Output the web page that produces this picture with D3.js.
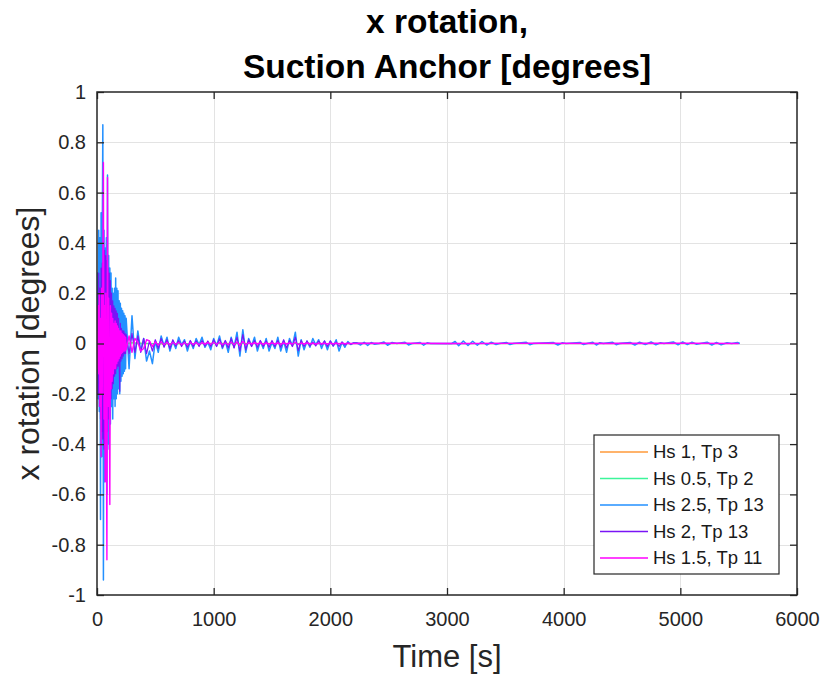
<!DOCTYPE html>
<html>
<head>
<meta charset="utf-8">
<script src="https://cdn.jsdelivr.net/npm/d3@7"></script>
<style>
  html, body { margin: 0; padding: 0; background: #ffffff; }
  svg { display: block; font-family: "Liberation Sans", Arial, Helvetica, sans-serif; }
</style>
</head>
<body>
<svg id="chart" width="827" height="677"></svg>
<script>
// Shared sample times for the first 2200 s of the three largest runs [s]
const time = [
  0, 5, 10, 15, 20, 25, 30, 35, 40, 45,
  50, 55, 60, 65, 70, 75, 80, 85, 90, 95,
  100, 105, 110, 115, 120, 125, 130, 135, 140, 145,
  150, 155, 160, 165, 170, 175, 180, 185, 190, 195,
  200, 205, 210, 215, 220, 225, 230, 235, 240, 245,
  250,
  275, 300, 325, 350, 375, 400, 425, 450, 475, 500,
  525, 550, 575, 600, 625, 650, 675, 700, 725, 750,
  775, 800, 825, 850, 875, 900, 925, 950, 975, 1000,
  1025, 1050, 1075, 1100, 1125, 1150, 1175, 1200, 1225, 1250,
  1275, 1300, 1325, 1350, 1375, 1400, 1425, 1450, 1475, 1500,
  1525, 1550, 1575, 1600, 1625, 1650, 1675, 1700, 1725, 1750,
  1775, 1800, 1825, 1850, 1875, 1900, 1925, 1950, 1975, 2000,
  2025, 2050, 2075, 2100, 2125, 2150, 2175, 2200
];

// Hs 2.5, Tp 13 — x rotation [degrees]
const hs25Values = [
  0, 0.28, -0.22, 0.45, -0.27, 0.42, -0.70, 0.52, -0.45, 0.40,
  0.87, -0.94, 0.45, -0.55, 0.38, -0.48, 0.42, -0.60, 0.67, -0.40,
  0.35, -0.42, 0.30, -0.32, 0.28, -0.25, 0.22, -0.30, 0.20, -0.22,
  0.22, -0.25, 0.26, -0.22, 0.22, -0.20, 0.21, -0.18, 0.17, -0.20,
  0.16, -0.15, 0.14, -0.13, 0.13, -0.12, 0.12, -0.11, 0.11, -0.10,
  0.10,
  -0.10, 0.11, -0.06, 0.05, -0.03, 0.02, -0.07, -0.03, -0.08, 0.01,
  -0.035, 0.03, -0.01, 0.025, -0.03, 0.01, -0.02, 0.025, -0.005, 0.015,
  -0.03, 0.01, -0.02, 0.02, -0.005, 0.025, -0.015, 0.005, -0.025, 0.02,
  -0.01, 0.03, -0.02, 0.01, -0.035, 0.025, -0.015, 0.045, -0.05, 0.055,
  -0.035, 0.02, -0.01, 0.025, -0.03, 0.01, -0.02, 0.02, -0.03, 0.005,
  -0.02, 0.025, -0.03, 0.01, -0.035, 0.02, -0.01, 0.045, -0.05, 0.015,
  -0.025, 0.01, -0.015, 0.02, -0.005, 0.015, -0.02, 0.01, -0.025, 0.01,
  -0.01, 0.015, -0.03, 0.005, -0.015, 0.008, -0.004, 0.003
];
const hs25TailTime = [
  2225, 2260, 2290, 2320, 2350, 2380, 2420, 2460, 2490, 2530,
  2570, 2640, 2670, 2700, 2770, 2800, 2830, 2860, 3040, 3070,
  3100, 3140, 3180, 3220, 3260, 3300, 3340, 3380, 3420, 3450,
  3510, 3540, 3570, 3680, 3710, 3740, 3910, 3950, 3990, 4020,
  4140, 4170, 4200, 4250, 4280, 4310, 4340, 4420, 4450, 4480,
  4570, 4610, 4650, 4700, 4750, 4790, 4830, 4860, 4940, 4980,
  5020, 5060, 5100, 5140, 5170, 5230, 5270, 5310, 5350, 5400,
  5440, 5490, 5510
];
const hs25TailValues = [
  0.003, -0.006, 0.005, -0.008, 0.004, -0.003, 0, 0.006, -0.007, 0.004,
  0, 0.005, -0.006, 0, 0.004, -0.007, 0.003, 0, 0, 0.008,
  -0.009, 0.01, -0.008, 0.009, -0.007, 0.008, -0.006, 0.005, -0.004, 0,
  0.004, -0.004, 0, 0.005, -0.005, 0, 0.004, -0.006, 0.003, 0,
  0.004, -0.004, 0, 0.005, -0.006, 0.003, 0, 0.005, -0.005, 0,
  0.004, -0.006, 0.005, -0.004, 0.006, -0.005, 0.003, 0, 0.006, -0.005,
  0.006, -0.004, 0.005, -0.003, 0, 0.005, -0.006, 0.004, -0.005, 0.003,
  0, 0.004, 0
];

// Hs 2, Tp 13
const hs2Values = [
  -0.05, 0.15, -0.20, 0.28, -0.25, 0.22, -0.30, 0.30, -0.35, 0.32,
  -0.38, 0.40, -0.42, 0.37, -0.40, 0.35, -0.38, 0.33, -0.35, 0.30,
  -0.30, 0.28, -0.25, 0.25, -0.22, 0.20, -0.18, 0.17, -0.16, 0.15,
  -0.13, 0.14, -0.12, 0.13, -0.10, 0.12, -0.09, 0.10, -0.08, -0.19,
  0.08, -0.07, 0.06, -0.06, 0.05, -0.05, 0.05, -0.04, 0.04, -0.04,
  0.035,
  -0.04, 0.04, -0.035, 0.03, -0.035, 0.02, -0.04, 0.01, -0.03, 0.015,
  -0.02, 0.02, -0.015, 0.015, -0.02, 0.015, -0.01, 0.012, -0.012, 0.01,
  -0.015, 0.012, -0.012, 0.01, -0.012, 0.012, -0.01, 0.01, -0.012, 0.015,
  -0.012, 0.018, -0.015, 0.012, -0.018, 0.02, -0.018, 0.025, -0.03, 0.035,
  -0.025, 0.015, -0.012, 0.012, -0.015, 0.012, -0.012, 0.01, -0.015, 0.012,
  -0.012, 0.012, -0.015, 0.015, -0.018, 0.012, -0.012, 0.025, -0.028, 0.012,
  -0.012, 0.01, -0.01, 0.006, -0.01, 0.01, -0.006, 0.01, -0.012, 0.01,
  -0.01, 0.006, -0.012, 0.006, -0.006, 0.003, -0.003, 0.002
];
const hs2TailTime = [2500, 3000, 3500, 4000, 4500, 5000, 5500];
const hs2TailValues = [0.001, -0.001, 0.001, 0, 0.001, 0, 0];

// Hs 1.5, Tp 11
const hs15Values = [
  0.05, -0.10, 0.15, -0.12, 0.20, -0.25, 0.10, -0.45, 0.22, -0.20,
  0.25, 0.72, -0.30, 0.15, -0.55, 0.20, -0.35, -0.86, 0.66, -0.25,
  0.18, -0.20, -0.64, 0.15, -0.18, 0.12, -0.15, 0.10, -0.12, 0.08,
  -0.10, 0.09, -0.10, 0.08, -0.08, 0.07, -0.07, 0.06, -0.06, 0.05,
  -0.05, 0.05, -0.04, 0.04, -0.035, 0.035, -0.03, 0.03, -0.03, 0.025,
  -0.025,
  0.03, -0.035, 0.02, 0.005, -0.03, -0.02, 0.015, 0.01, -0.012, 0.006,
  -0.006, 0.006, -0.004, 0.005, -0.005, 0.004, -0.003, 0.004, -0.004, 0.003,
  -0.005, 0.003, -0.003, 0.003, -0.004, 0.003, -0.002, 0.003, -0.003, 0.004,
  -0.003, 0.004, -0.004, 0.002, -0.004, 0.005, -0.004, 0.006, -0.008, 0.008,
  -0.005, 0.003, -0.002, 0.003, -0.002, 0.002, -0.003, 0.002, -0.002, 0.002,
  -0.002, 0.002, -0.003, 0.002, -0.002, 0.002, -0.002, 0.004, -0.004, 0.002,
  -0.002, 0.002, -0.001, 0.001, -0.002, 0.001, -0.001, 0.001, -0.002, 0.001,
  -0.001, 0.001, -0.001, 0.001, -0.001, 0.001, 0, 0
];
const hs15TailTime = [2600, 3200, 3800, 4400, 5000, 5500];
const hs15TailValues = [0.001, 0, 0.001, 0, 0.001, 0];

// Hs 1, Tp 3
const hs1Time = [0, 5, 10, 15, 20, 25, 30, 40, 50, 60, 80, 100, 130, 160, 200, 300, 500, 1000, 2000, 3000, 4000, 5000, 5500];
const hs1Values = [0, 0.04, -0.05, 0.06, -0.05, 0.04, -0.04, 0.03, -0.03, 0.025, -0.02, 0.015, -0.01, 0.008, -0.005, 0.003, -0.002, 0.001, 0, 0, 0, 0, 0];

// Hs 0.5, Tp 2
const hs05Time = [0, 4, 8, 12, 16, 20, 25, 30, 40, 50, 70, 100, 150, 250, 500, 1000, 2000, 3000, 4000, 5000, 5500];
const hs05Values = [0, 0.03, -0.03, 0.035, -0.03, 0.025, -0.02, 0.02, -0.015, 0.012, -0.008, 0.005, -0.003, 0.002, 0, 0, 0, 0, 0, 0, 0];

const seriesNames = ["Hs 1, Tp 3", "Hs 0.5, Tp 2", "Hs 2.5, Tp 13", "Hs 2, Tp 13", "Hs 1.5, Tp 11"];
const seriesColors = ["#ff9a3a", "#3cf59a", "#2390ff", "#7a14f5", "#ff00ff"];

const xTicks = [0, 1000, 2000, 3000, 4000, 5000, 6000];
const yTicks = [-1, -0.8, -0.6, -0.4, -0.2, 0, 0.2, 0.4, 0.6, 0.8, 1];

const titleLines = ["x rotation,", "Suction Anchor [degrees]"];
const xLabel = "Time [s]";
const yLabel = "x rotation [degrees]";

// Pair up times and values for each run
function pairs(t, v) {
  const n = Math.min(t.length, v.length);
  return d3.range(n).map(i => [t[i], v[i]]);
}
const series = [
  pairs(hs1Time, hs1Values),
  pairs(hs05Time, hs05Values),
  pairs(time.concat(hs25TailTime), hs25Values.concat(hs25TailValues)),
  pairs(time.concat(hs2TailTime), hs2Values.concat(hs2TailValues)),
  pairs(time.concat(hs15TailTime), hs15Values.concat(hs15TailValues))
];
const strokeWidths = [1, 1, 1.5, 1.2, 1.4];

const plot = { left: 97, right: 797, top: 92, bottom: 595 };
const x = d3.scaleLinear().domain([0, 6000]).range([plot.left, plot.right]);
const y = d3.scaleLinear().domain([-1, 1]).range([plot.bottom, plot.top]);

const svg = d3.select("#chart");
const ink = "#262626";

// Grid
const grid = svg.append("g").attr("stroke", "#e3e3e3").attr("stroke-width", 1);
grid.selectAll("line.gx").data(xTicks.slice(1, -1)).join("line")
  .attr("x1", d => Math.round(x(d)) + 0.5).attr("x2", d => Math.round(x(d)) + 0.5)
  .attr("y1", plot.top).attr("y2", plot.bottom);
grid.selectAll("line.gy").data(yTicks.slice(1, -1)).join("line")
  .attr("y1", d => Math.round(y(d)) + 0.5).attr("y2", d => Math.round(y(d)) + 0.5)
  .attr("x1", plot.left).attr("x2", plot.right);

// Traces
svg.append("clipPath").attr("id", "plotClip").append("rect")
  .attr("x", plot.left).attr("y", plot.top)
  .attr("width", plot.right - plot.left).attr("height", plot.bottom - plot.top);

const line = d3.line().x(d => x(d[0])).y(d => y(d[1]));
svg.append("g").attr("clip-path", "url(#plotClip)")
  .selectAll("path").data(series).join("path")
  .attr("d", line)
  .attr("fill", "none")
  .attr("stroke", (d, i) => seriesColors[i])
  .attr("stroke-width", (d, i) => strokeWidths[i])
  .attr("stroke-linejoin", "round");

// Axes: ticks point inwards on all four sides
const fmt = d => String(d);
const axB = svg.append("g").attr("transform", `translate(0,${plot.bottom})`)
  .call(d3.axisBottom(x).tickValues(xTicks).tickFormat(fmt).tickSize(-7).tickSizeOuter(0).tickPadding(17));
const axL = svg.append("g").attr("transform", `translate(${plot.left},0)`)
  .call(d3.axisLeft(y).tickValues(yTicks).tickFormat(fmt).tickSize(-7).tickSizeOuter(0).tickPadding(11));
const axT = svg.append("g").attr("transform", `translate(0,${plot.top})`)
  .call(d3.axisTop(x).tickValues(xTicks).tickFormat("").tickSize(-7).tickSizeOuter(0));
const axR = svg.append("g").attr("transform", `translate(${plot.right},0)`)
  .call(d3.axisRight(y).tickValues(yTicks).tickFormat("").tickSize(-7).tickSizeOuter(0));

[axB, axL, axT, axR].forEach(g => {
  g.select(".domain").remove();
  g.selectAll("line").attr("stroke", ink).attr("stroke-width", 1.3);
  g.selectAll("text").attr("fill", ink).attr("font-size", 20)
    .attr("font-family", "'Liberation Sans', Arial, sans-serif");
});

// Box
svg.append("rect")
  .attr("x", plot.left).attr("y", plot.top)
  .attr("width", plot.right - plot.left).attr("height", plot.bottom - plot.top)
  .attr("fill", "none").attr("stroke", ink).attr("stroke-width", 1.5);

// Title
svg.append("g").selectAll("text").data(titleLines).join("text")
  .attr("x", 447).attr("y", (d, i) => 33 + i * 45)
  .attr("text-anchor", "middle")
  .attr("font-size", 33.5).attr("font-weight", "bold").attr("fill", "#000")
  .text(d => d);

// Axis labels
svg.append("text")
  .attr("x", 447).attr("y", 667)
  .attr("text-anchor", "middle").attr("font-size", 31).attr("fill", ink)
  .text(xLabel);
svg.append("text")
  .attr("transform", `translate(39,${(plot.top + plot.bottom) / 2}) rotate(-90)`)
  .attr("text-anchor", "middle").attr("font-size", 32).attr("fill", ink)
  .text(yLabel);

// Legend
const leg = svg.append("g");
leg.append("rect")
  .attr("x", 594).attr("y", 435).attr("width", 185).attr("height", 139)
  .attr("fill", "#fff").attr("stroke", ink).attr("stroke-width", 1.2);
const rows = leg.selectAll("g.row").data(seriesNames).join("g")
  .attr("transform", (d, i) => `translate(0,${452 + i * 26.5})`);
rows.append("line")
  .attr("x1", 600).attr("x2", 648).attr("y1", 0).attr("y2", 0)
  .attr("stroke", (d, i) => seriesColors[i]).attr("stroke-width", 1.5);
rows.append("text")
  .attr("x", 653).attr("y", 0).attr("dy", "0.35em")
  .attr("font-size", 18.5).attr("fill", "#1a1a1a")
  .text(d => d);
</script>
</body>
</html>
